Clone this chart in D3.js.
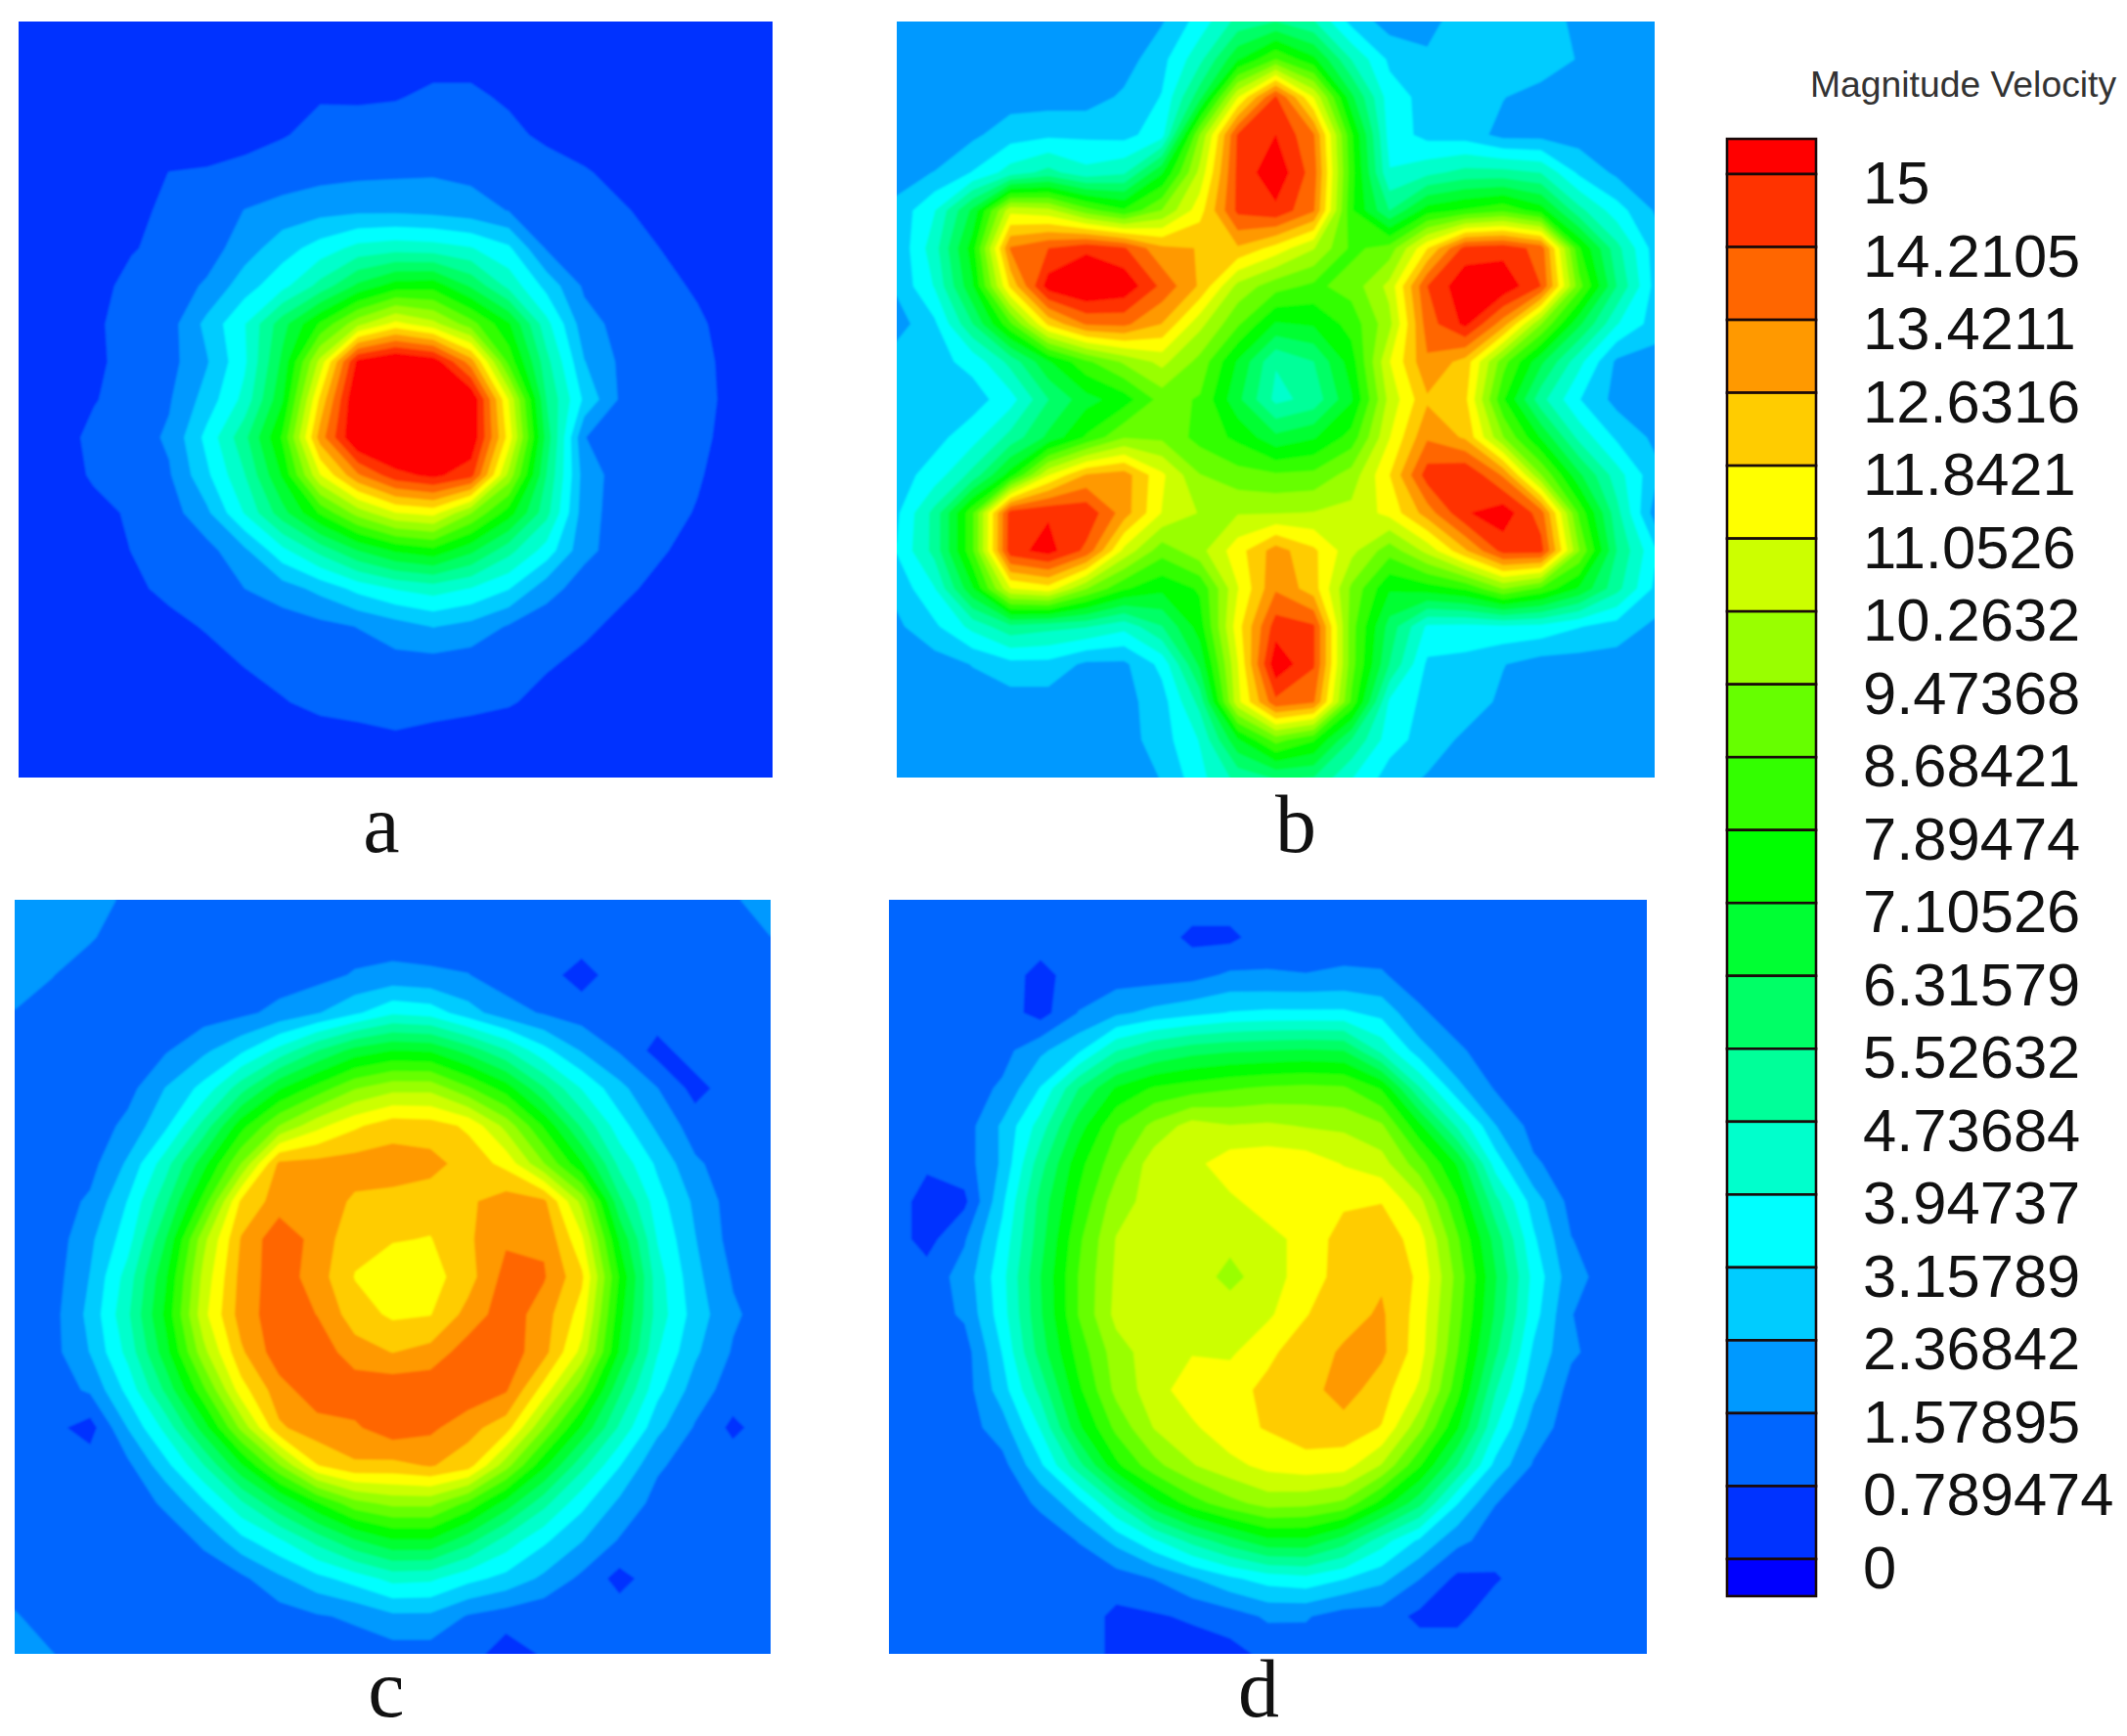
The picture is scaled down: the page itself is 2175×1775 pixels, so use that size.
<!DOCTYPE html>
<html><head><meta charset="utf-8">
<script src="https://cdn.jsdelivr.net/npm/d3@7/dist/d3.min.js"></script>
<style>html,body{margin:0;padding:0;background:#fff}svg{display:block}</style>
</head><body><div id="chart"></div>
<script>
const levelLabels=["15","14.2105","13.4211","12.6316","11.8421","11.0526","10.2632","9.47368","8.68421","7.89474","7.10526","6.31579","5.52632","4.73684","3.94737","3.15789","2.36842","1.57895","0.789474","0"];
const bandColors=["#ff0000","#ff3300","#ff6600","#ff9900","#ffcc00","#ffff00","#ccff00","#99ff00","#66ff00","#33ff00","#00ff00","#00ff33","#00ff66","#00ff99","#00ffcc","#00ffff","#00ccff","#0099ff","#0066ff","#0033ff"];
const underColor="#0000ff";
const legendTitle="Magnitude Velocity";
const panelNames=["a","b","c","d"];

const gridA=[
[.3,.3,.3,.3,.3,.3,.3,.3,.3,.3,.3,.3,.3,.3,.3,.3,.3,.3,.3,.3,.3],
[.3,.3,.3,.3,.3,.3,.3,.3,.3,.4,.5,.6,.6,.5,.4,.3,.3,.3,.3,.3,.3],
[.4,.4,.4,.4,.4,.4,.4,.5,.75,.7,.75,.9,.9,.7,.5,.4,.4,.4,.4,.4,.4],
[.4,.4,.4,.4,.4,.45,.6,.75,.95,1.1,1.1,1.1,1.1,.95,.65,.5,.4,.4,.4,.4,.4],
[.4,.4,.4,.5,.8,.85,.95,1.1,1.3,1.4,1.45,1.5,1.4,1.3,1.1,.85,.6,.4,.4,.4,.4],
[.4,.4,.4,.65,.9,1.05,1.6,1.9,2.1,2.2,2.2,2.1,1.9,1.55,1.25,1.05,.85,.6,.4,.4,.4],
[.4,.4,.45,.75,.95,1.2,2.0,2.8,3.5,4.2,4.4,4.3,4.0,3.3,1.5,1.2,1.0,.79,.55,.4,.4],
[.4,.4,.6,.95,1.15,1.7,2.8,3.7,5.0,6.5,7.5,7.6,6.2,4.5,2.9,1.45,1.2,1.0,.7,.5,.4],
[.4,.4,.7,1.0,1.25,2.6,3.9,6.0,8.0,10,11.3,10.5,9.0,7.2,4.2,1.9,1.3,1.1,.9,.5,.4],
[.4,.4,.7,.95,1.3,2.3,3.8,6.5,10.5,15.2,16,15.5,13,8.4,5.0,2.4,1.4,1.2,1.0,.55,.4],
[.4,.45,.75,1.05,1.5,2.7,4.2,7.0,12,16,17,16.8,15.8,11,5.5,3.0,1.4,1.15,1.0,.6,.4],
[.4,.5,.95,1.2,1.7,3.4,5.3,8,13,16,16.5,16.5,15.7,11.5,6,1.6,1.2,1.1,.95,.55,.4],
[.4,.55,.85,1.1,1.5,3.0,4.7,7.2,11,13.3,14.7,15.2,14.5,10,5.5,2.0,1.2,1.05,.85,.5,.4],
[.4,.4,.65,.85,1.2,2.2,4,6,8,9.8,11,11.3,9.5,7.5,5,1.9,1.2,1,.75,.45,.4],
[.4,.4,.5,.8,1.05,1.3,2.2,3.7,5,6.3,7.2,7.6,6.5,5,3.6,1.8,1.2,.85,.6,.4,.4],
[.4,.4,.4,.65,.95,1.15,1.58,2,2.6,3.4,4,4.3,3.9,3.2,1.9,1.2,.9,.65,.4,.4,.4],
[.4,.4,.4,.4,.6,.85,1.0,1.15,1.35,1.6,2.0,2.4,2.1,1.5,1.1,.9,.65,.4,.4,.4,.4],
[.4,.4,.4,.4,.4,.55,.82,1,1.1,1.2,1.3,1.25,1.15,1,.85,.65,.4,.4,.4,.4,.4],
[.4,.4,.4,.4,.4,.4,.5,.75,.95,1,1.05,1,.95,.85,.6,.4,.4,.4,.4,.4,.4],
[.4,.4,.4,.4,.4,.4,.4,.4,.5,.6,.7,.6,.5,.4,.4,.4,.4,.4,.4,.4,.4],
[.3,.3,.3,.3,.3,.3,.3,.3,.3,.3,.3,.3,.3,.3,.3,.3,.3,.3,.3,.3,.3]];

const gridB=[
[2,2,2,2,2,2,2,2.3,3.5,5,5.5,4.8,2.9,2,2.1,2.8,2.8,2.7,2.2,2,2],
[2,2,2,2,2,2,2,2.9,4.5,7,8.7,7.3,4.7,3,2.5,2.8,2.9,2.9,2.3,2,2],
[2,2,2,2,2,2,2.5,3.2,6,11,14.3,11,6.5,3.5,2.9,2.9,2.4,2,2,2,2],
[1.9,1.6,2.2,2.8,3,3,2.9,3.6,9.5,14.3,15,13.5,8,3.6,2.9,2.8,2.1,2.1,2,2,2],
[2,2.4,3.2,4.3,5,4.2,4.6,7,10.5,14.4,15.6,13.8,8.2,4,4.5,5,5,4.7,3,2.2,1.8],
[2.6,3.9,6.5,10.8,10.5,9,8,9.5,11.5,14.4,14.8,13.5,8,5.5,7.5,8,8.5,7.5,5,3.5,2.3],
[2.5,4.4,7.5,13.5,14.2,14.8,14.3,12.8,12.6,12.5,11.5,10.3,8.5,9,11.8,14.5,14.7,13.9,8,5,2.8],
[2.5,4,7,12,15.4,16,15.6,14,12.5,10,9,8.5,9,10.5,14.2,15.6,15.6,14.2,9,5.5,2.9],
[2,3,5.5,8.5,12,13.5,13.6,12.6,10.5,8.8,7,7.2,8.2,10,13.8,15.2,13,9.5,6.5,4,2.8],
[2.8,2.9,3.4,5,7,8.5,9.6,10.5,9.2,7,4.8,5.5,7.5,11,13.3,12.3,9,6.5,4.2,2.2,2],
[2.8,2.8,2.8,3.6,5.5,6.8,7.5,9,8.6,6.5,4.5,5,7,10.5,12.5,12,8,5,3.2,2.1,2],
[2.7,2.9,3.6,5,6.5,8,9.4,9.3,8.4,7.7,6.5,7,8.2,11,13.3,12.5,9.5,7,4.5,3,2.2],
[2.8,3.5,5,7.5,11,12.7,13,11.2,9.5,9,8.8,8.9,9.8,11.8,14.6,15,13.3,9.5,6.5,4.3,2.6],
[3,5,8.5,14.6,14.9,14.8,13,11,10.2,10.2,10.2,10.3,10.5,11.3,13,14.9,15.5,13.8,8.5,5,2],
[3.2,5,8.5,14.7,15.3,14,10.8,9,10,11.5,13,12,10.5,9,10.5,12.5,14.5,14.5,9.5,5.5,3.3],
[2.6,3.9,7,11,11.5,9.5,8,7.3,8,11,13.3,12.2,9.3,7.2,7.5,8,9.5,8.5,7,5,3],
[2.2,3,4.2,5.3,5,4.8,4.2,5.5,7.5,11.5,14.6,14.3,9,6,3.8,3.7,3.8,3.7,3.2,2.8,2.2],
[2,2,2.4,2.9,2.9,2.2,2.2,3.4,6.5,11,15.6,14.3,9,5.5,3,2.9,2.4,2,2,2,2],
[2,2,2,2,2,2,2.1,2.8,5,10.8,14,13.5,8.5,3.8,2.9,2.8,2.2,2,2,2,2],
[2,2,2,2,2,2,2,2.8,4,7,9,8,5.5,3.5,2.8,2.2,2,2,2,2,2],
[2,2,2,2,2,2,2,2.4,3.7,5,5.6,5.5,4,2.8,2.3,2,2,2,2,2,2]];

const gridC=[
[2,1.9,1.75,1.5,1.2,1.2,1.2,1.2,1.2,1.2,1.2,1.2,1.2,1.2,1.2,1.2,1.2,1.2,1.2,1.5,1.9],
[2,1.9,1.65,1.2,1.2,1.2,1.2,1.2,1.2,1.2,1.2,1.2,1.2,1.2,1.2,1.2,1.2,1.2,1.2,1.1,1.57],
[1.9,1.6,1.2,1.2,1.2,1.2,1.2,1.2,1.3,1.65,1.8,1.7,1.6,1.2,1.1,.45,1.2,1.2,1.2,1.2,1.2],
[1.55,1.3,1.2,1.2,1.2,1.2,1.4,1.8,2.3,3,3.8,3.6,2.7,1.9,1.5,1.2,1.2,1.2,1.2,1.2,1.2],
[1.2,1.2,1.2,1.2,1.5,2.2,3,4.2,5.5,6.6,7.1,7,6,4.8,3.4,2.3,1.5,.5,1.2,1.2,1.2],
[1.2,1.2,1.2,1.3,2.4,3.4,5.2,7,8.2,9.4,10,10,8.8,7.5,5.6,3.9,2.6,1.6,.5,1.2,1.2],
[1.2,1.2,1.1,1.8,3,5,7.6,9.5,10.8,11.7,12.3,12.2,11.7,10,7.8,5.4,3.5,2.2,1.2,1.2,1.2],
[1.2,1.2,1.3,2.5,4.4,6.8,9.5,12.8,12.9,13,13,12.9,12.3,11.6,9.5,7.2,4.5,3,1.7,1.2,1.2],
[1.2,1.2,1.7,3.2,5.3,8.2,12,13,13.1,12.5,12.4,12.2,12.5,13,12.8,10,5.7,3.5,2.2,1.2,1.2],
[1.2,1.1,2.2,3.6,6.3,10,12.7,14,13.1,12.1,11.9,11.8,12.5,13.3,13.3,11.2,7,3.9,2.4,1.25,1.2],
[1.2,1.2,2.4,4.3,7,10.5,12.9,13.9,13,11.8,11.3,11.5,12.3,13.7,13.5,12,7.8,4.3,2.6,1.5,1.2],
[1.2,1.3,2.6,4.6,7.3,10.8,13,13.9,13.4,12.2,11.7,11.8,12.9,13.9,13,11.5,7.4,4.4,2.8,1.7,1.2],
[1.2,1.3,2.4,4.2,6.8,10,12.5,13.9,13.9,13,12.6,12.9,13.85,13.9,12.9,10.8,7,4,2.5,1.5,1.2],
[1.2,1.2,1.7,3.4,5.7,8.5,11.5,13.1,13.9,13.9,14,14,14,13.5,11.5,8.9,5.7,3.4,2,1.2,1.2],
[1.2,1,.45,2.4,4.2,6.7,9.7,12.5,13.1,13.3,13.9,13.6,12.9,12.2,9.5,7,4.6,2.6,1.5,.6,1.2],
[1.2,1.2,1.2,1.4,2.9,4.7,7,9.4,11.8,12.5,12.4,12.7,12.2,9.8,7.3,5,3.2,1.7,1.2,1.2,1.2],
[1.2,1.2,1.2,1.2,1.7,3,4.6,6.2,7.8,9.2,9.7,9.7,8.5,6.8,5,3.4,2.2,1.3,1.2,1.2,1.2],
[1.2,1.2,1.2,1.2,1.2,1.7,2.9,3.8,5,6.2,7,7,5.8,4.4,3.3,2.4,1.5,1.2,1.2,1.2,1.2],
[1.2,1.2,1.2,1.2,1.2,1.2,1.4,2.2,2.9,3.5,4.2,4.1,3.4,2.9,2.2,1.4,.5,1.2,1.2,1.2,1.2],
[1.65,1.2,1.2,1.2,1.2,1.2,1.2,1.2,1.5,1.7,2.2,2.2,1.5,1.2,1,1.2,1.2,1.2,1.2,1.2,1.2],
[1.9,1.6,1.2,1.2,1.2,1.2,1.2,1.2,1.2,1.2,1.2,1.2,1.2,.3,.9,1.2,1.2,1.2,1.2,1.2,1.2]];

const gridD=[
[1.2,1.2,1.2,1.2,1.2,1.2,1.2,1.2,1.2,1.2,1.2,1.2,1.2,1.2,1.2,1.2,1.2,1.2,1.2,1.2,1.2],
[1.2,1.2,1.2,1.2,1.2,1.2,1.2,1.2,.6,.6,1.2,1.2,1.2,1.2,1.2,1.2,1.2,1.2,1.2,1.2,1.2],
[1.2,1.2,1.2,1.2,.5,1.2,1.2,1.2,1.3,1.7,1.65,1.6,1.7,1.65,1.2,1.2,1.2,1.2,1.2,1.2,1.2],
[1.2,1.2,1.2,1.2,.45,1.6,2.2,2.6,2.9,3.2,3.3,3.3,3.3,2.9,1.7,1.2,1.2,1.2,1.2,1.2,1.2],
[1.2,1.2,1.2,1.3,2.2,3,4.7,5.5,6,6.2,6.3,6.4,6.3,4.5,2.7,1.7,1.2,1.2,1.2,1.2,1.2],
[1.2,1.2,1.2,1.7,3.2,5.5,7.2,8,8.3,8.6,8.8,8.9,8.8,7.8,4.8,2.6,1.5,1.2,1.2,1.2,1.2],
[1.2,1.2,1.2,2.5,4.3,6.7,8.6,9.7,10.6,10.3,10.4,10.2,10.1,9.6,7.3,4.6,2.4,1.3,1.2,1.2,1.2],
[1.2,.9,1.2,2.5,5.2,7.6,9.2,10.7,10.8,11.5,11.6,11.5,11,10.6,9,7,3.6,1.7,1.2,1.2,1.2],
[1.2,.5,.6,3,5.8,8,9.9,10.6,10.7,10.9,11.4,11.5,11.7,11.8,10.5,8,5,2.8,1.3,1.2,1.2],
[1.2,.5,1.5,3.4,6,8.5,10.3,10.7,10.7,10.5,10.8,11.3,12.2,12.4,11.4,8.8,6,3.3,1.6,1.2,1.2],
[1.2,1.1,1.9,3.7,6.3,8.7,10.4,10.7,10.7,10,10.7,11.4,12.2,12.5,11.7,9.2,6.4,3.7,1.9,1.2,1.2],
[1.2,1.2,1.7,3.6,6.2,8.7,10.5,10.7,10.7,10.7,10.9,11.8,12.3,12.75,11.5,9,6.2,3.5,1.6,1.2,1.2],
[1.2,1.2,1.2,3.2,5.9,8.2,9.9,10.7,11,10.9,11.7,12.2,12.75,12.8,11.4,8.7,5.7,3,1.7,1.2,1.2],
[1.2,1.2,1.2,2.8,5,7.7,9.7,10.7,11.5,11.6,12,12.3,13,12.2,10.9,8.2,4.8,2.6,1.3,1.2,1.2],
[1.2,1.2,1.2,2,4,6.9,8.9,10.3,10.9,11.6,11.9,12.3,12.3,11.8,9.7,7.2,4,2,1.2,1.2,1.2],
[1.2,1.2,1.2,1.3,3,5.2,7.7,9.2,10.2,10.8,11.3,11.5,11.4,10.2,8,5.5,2.9,1.5,1.2,1.2,1.2],
[1.2,1.2,1.2,1.2,1.7,2.9,4.8,6.9,8.3,9.2,9.8,9.7,9.3,7.6,5.8,3.2,1.6,1.2,1.2,1.2,1.2],
[1.2,1.2,1.2,1.2,1.2,1.6,2.6,3.8,5,6,6.9,6.9,5.9,4.3,3,1.8,1.2,1.2,1.2,1.2,1.2],
[1.2,1.2,1.2,1.2,1.2,1.2,1.2,1.6,2.3,3,3.5,3.7,3.2,2.6,1.6,.6,.7,1.2,1.2,1.2,1.2],
[1.2,1.2,1.2,1.2,1.2,1.2,.6,.7,.9,1.2,1.7,1.65,1.2,1.2,.6,.6,1.2,1.2,1.2,1.2,1.2],
[1.2,1.2,1.2,1.2,1.2,1.2,.6,.4,.4,.5,1,1.2,1.2,1.2,1.2,1.2,1.2,1.2,1.2,1.2,1.2]];

const grids=[gridA,gridB,gridC,gridD];
const layout=[
 {x0:19,x1:790,y0:22,y1:795,lx:390,ly:871},
 {x0:917,x1:1692,y0:22,y1:795,lx:1325,ly:871},
 {x0:15,x1:788,y0:920,y1:1691,lx:395,ly:1755},
 {x0:909,x1:1684,y0:920,y1:1691,lx:1287,ly:1755}
];

const svg=d3.select("#chart").append("svg").attr("width",2175).attr("height",1775).attr("viewBox","0 0 2175 1775");
const defs=svg.append("defs");
const f=defs.append("filter").attr("id","soft").attr("x","-2%").attr("y","-2%").attr("width","104%").attr("height","104%");
f.append("feGaussianBlur").attr("stdDeviation",1);

const levels=levelLabels.map(Number);
const colorOf=d3.scaleOrdinal().domain(levels).range(bandColors);
const thresholds=levels.slice().sort((a,b)=>a-b);

grids.forEach((grid,k)=>{
  const L=layout[k],n=grid[0].length,m=grid.length;
  const sx=d3.scaleLinear().domain([0.5,n-0.5]).range([L.x0,L.x1]);
  const sy=d3.scaleLinear().domain([0.5,m-0.5]).range([L.y0,L.y1]);
  const path=d3.geoPath(d3.geoTransform({point(x,y){this.stream.point(sx(x),sy(y));}}));
  const cs=d3.contours().size([n,m]).thresholds(thresholds)(grid.flat());
  defs.append("clipPath").attr("id","clip"+k).append("rect")
    .attr("x",L.x0).attr("y",L.y0).attr("width",L.x1-L.x0).attr("height",L.y1-L.y0);
  const g=svg.append("g").attr("clip-path",`url(#clip${k})`).append("g").attr("filter","url(#soft)");
  g.selectAll("path").data(cs).join("path").attr("d",path)
    .attr("fill",d=>colorOf(d.value)).attr("stroke",d=>colorOf(d.value)).attr("stroke-width",.5);
  svg.append("text").attr("x",L.lx).attr("y",L.ly).attr("text-anchor","middle")
    .attr("font-family","'Liberation Serif',serif").attr("font-size",84).attr("fill","#111").text(panelNames[k]);
});

// legend
const ly=d3.scaleLinear().domain([15,0]).range([178,1594]);
const bx=1766,bw=91,topY=142,botY=1632;
const leg=svg.append("g");
const boxes=levels.map((v,i)=>({c:bandColors[i],y0:i===0?topY:ly(levels[i-1]),y1:ly(v)}));
boxes.push({c:underColor,y0:ly(0),y1:botY});
leg.selectAll("rect.box").data(boxes).join("rect").attr("class","box")
  .attr("x",bx).attr("width",bw).attr("y",d=>d.y0).attr("height",d=>d.y1-d.y0)
  .attr("fill",d=>d.c).attr("stroke","#1a0a0a").attr("stroke-width",2.6);
leg.selectAll("text.tick").data(levelLabels).join("text").attr("class","tick")
  .attr("x",1905).attr("y",d=>ly(+d)+30)
  .attr("font-family","'Liberation Sans',Arial,sans-serif").attr("font-size",61.5).attr("fill","#111").text(d=>d);
leg.append("text").attr("x",1851).attr("y",99)
  .attr("font-family","'Liberation Sans',Arial,sans-serif").attr("font-size",37.3).attr("fill","#333").text(legendTitle);
</script></body></html>
